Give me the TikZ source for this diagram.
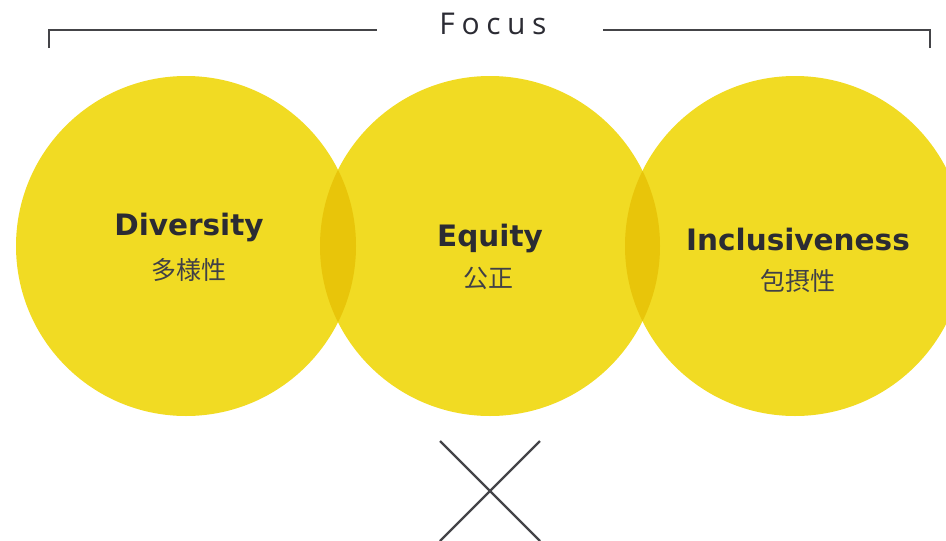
\documentclass[tikz,border=0pt]{standalone}
\usepackage{fontspec}
\setmainfont{DejaVu Sans}
\newfontfamily\cjkfont{Noto Sans CJK JP}
\newfontfamily\focusfont[LetterSpace=22]{Open Sans}
\usepackage{tikz}
\usetikzlibrary{positioning}
\definecolor{dyellow}{HTML}{F1DB23}
\definecolor{dlens}{HTML}{E8C50A}
\definecolor{dtext}{HTML}{2B2B33}
\definecolor{dline}{HTML}{444448}

\tikzset{
  bubble/.style={circle, fill=dyellow, minimum size=340pt, inner sep=0pt},
  title/.style={anchor=base, text=dtext, font=\bfseries\fontsize{29.5}{30}\selectfont},
  subtitle/.style={anchor=base, text=dtext!90, font=\cjkfont\fontsize{25}{25}\selectfont},
  rule/.style={draw=dline, line width=2.4pt}
}

\begin{document}
\begin{tikzpicture}[x=1pt, y=-1pt]
\useasboundingbox (0,0) rectangle (946,541);
\clip (0,0) rectangle (946,541);

\node[bubble] (div) at (186,246) {};
\node[bubble] (equ) at (490,246) {};
\node[bubble] (inc) at (795,246) {};

% overlaps
\begin{scope}
  \clip (div.center) circle (170pt);
  \fill[dlens] (equ.center) circle (170pt);
\end{scope}
\begin{scope}
  \clip (equ.center) circle (170pt);
  \fill[dlens] (inc.center) circle (170pt);
\end{scope}

\node[title]    (divT) at (189,235) {Diversity};
\node[subtitle] (divS) at (189,279) {多様性};
\node[title]    (equT) at (490,246) {Equity};
\node[subtitle] (equS) at (488,287) {公正};
\node[title]    (incT) at (798,250) {Inclusiveness};
\node[subtitle] (incS) at (798,290) {包摂性};

% top bracket
\node[text=dtext, font=\focusfont\fontsize{30}{30}\selectfont] (focus) at (493,24) {Focus};
\coordinate (bl) at (49,48);
\coordinate (br) at (930,48);
\draw[rule] (bl) |- (377,30);
\draw[rule] (br) |- (603,30);

% cross
\coordinate (xa) at (440,441);
\coordinate (xb) at (540,541);
\coordinate (xc) at (540,441);
\coordinate (xd) at (440,541);
\draw[rule] (xa) -- (xb);
\draw[rule] (xc) -- (xd);
\end{tikzpicture}
\end{document}
